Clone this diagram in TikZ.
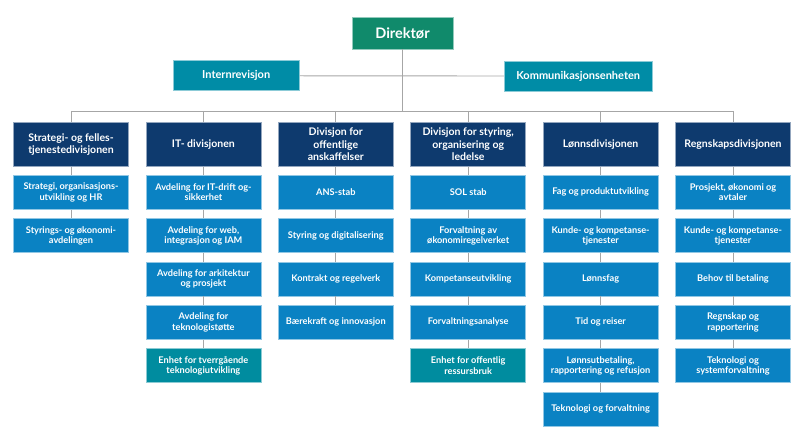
\documentclass[tikz,border=0pt]{standalone}
\usepackage{fontspec}
\setmainfont{Lato}
\definecolor{cgreen}{HTML}{108A6B}
\definecolor{cteal}{HTML}{008CA6}
\definecolor{cunit}{HTML}{008C9F}
\definecolor{cnavy}{HTML}{0E3A6E}
\definecolor{cblue}{HTML}{0A82C3}
\definecolor{cline}{HTML}{A6A6A6}
\tikzset{
  box/.style={inner sep=0pt, align=center, text=white, line width=0.6pt},
  topbox/.style={box, fill=cgreen, draw=cgreen!45!white, minimum width=101pt, minimum height=32pt, font=\fontsize{14.5}{16}\selectfont\bfseries},
  staffbox/.style={box, fill=cteal, draw=cteal!45!white, minimum height=30pt, font=\fontsize{11}{12}\selectfont\bfseries},
  divbox/.style={box, fill=cnavy, draw=cnavy!45!white, minimum width=115pt, minimum height=44.5pt, font=\fontsize{10.5}{12.5}\selectfont\bfseries},
  subbox/.style={box, fill=cblue, draw=cblue!45!white, minimum width=115pt, minimum height=34pt, font=\fontsize{9.2}{10.3}\selectfont\bfseries},
  unitbox/.style={subbox, fill=cunit, draw=cunit!45!white},
  conn/.style={draw=cline, line width=0.9pt}
}
\begin{document}
\begin{tikzpicture}[x=1pt,y=-1pt]
\useasboundingbox (0,0) rectangle (800,443);
% top
\node[topbox] (dir) at (402.5,33) {Direktør};
\node[staffbox, minimum width=126pt] (intern) at (236.2,75.8) {Internrevisjon};
\node[staffbox, minimum width=148pt] (komm) at (578.2,76) {Kommunikasjonsenheten};
\coordinate (bus) at (402.5,111);
% divisions
\node[divbox] (d1) at (71,144.3) {Strategi- og felles-\\tjenestedivisjonen};
\node[divbox] (d2) at (203.4,144.3) {IT- divisjonen};
\node[divbox] (d3) at (335.8,144.3) {Divisjon for\\offentlige\\anskaffelser};
\node[divbox] (d4) at (468.2,144.3) {Divisjon for styring,\\organisering og\\ledelse};
\node[divbox] (d5) at (600.6,144.3) {Lønnsdivisjonen};
\node[divbox] (d6) at (733,144.3) {Regnskapsdivisjonen};
% column 1
\node[subbox] (a1) at (71,192.3) {Strategi, organisasjons-\\utvikling og HR};
\node[subbox] (a2) at (71,235.65) {Styrings- og økonomi-\\avdelingen};
% column 2
\node[subbox] (b1) at (203.4,192.3) {Avdeling for IT-drift og-\\sikkerhet};
\node[subbox] (b2) at (203.4,235.65) {Avdeling for web,\\integrasjon og IAM};
\node[subbox] (b3) at (203.4,279) {Avdeling for arkitektur\\og prosjekt};
\node[subbox] (b4) at (203.4,322.35) {Avdeling for\\teknologistøtte};
\node[unitbox] (b5) at (203.4,365.7) {Enhet for tverrgående\\teknologiutvikling};
% column 3
\node[subbox] (c1) at (335.8,192.3) {ANS-stab};
\node[subbox] (c2) at (335.8,235.65) {Styring og digitalisering};
\node[subbox] (c3) at (335.8,279) {Kontrakt og regelverk};
\node[subbox] (c4) at (335.8,322.35) {Bærekraft og innovasjon};
% column 4
\node[subbox] (e1) at (468.2,192.3) {SOL stab};
\node[subbox] (e2) at (468.2,235.65) {Forvaltning av\\økonomiregelverket};
\node[subbox] (e3) at (468.2,279) {Kompetanseutvikling};
\node[subbox] (e4) at (468.2,322.35) {Forvaltningsanalyse};
\node[unitbox] (e5) at (468.2,365.7) {Enhet for offentlig\\ressursbruk};
% column 5
\node[subbox] (f1) at (600.6,192.3) {Fag og produktutvikling};
\node[subbox] (f2) at (600.6,235.65) {Kunde- og kompetanse-\\tjenester};
\node[subbox] (f3) at (600.6,279) {Lønnsfag};
\node[subbox] (f4) at (600.6,322.35) {Tid og reiser};
\node[subbox] (f5) at (600.6,365.7) {Lønnsutbetaling,\\rapportering og refusjon};
\node[subbox] (f6) at (600.6,409.05) {Teknologi og forvaltning};
% column 6
\node[subbox] (g1) at (733,192.3) {Prosjekt, økonomi og\\avtaler};
\node[subbox] (g2) at (733,235.65) {Kunde- og kompetanse-\\tjenester};
\node[subbox] (g3) at (733,279) {Behov til betaling};
\node[subbox] (g4) at (733,322.35) {Regnskap og\\rapportering};
\node[subbox] (g5) at (733,365.7) {Teknologi og\\systemforvaltning};
% connectors
\draw[conn] (dir.south) -- (bus);
\draw[conn] (intern.east) -- (komm.west);
\draw[conn] (d1.north |- bus) -- (d6.north |- bus);
\foreach \d in {d1,d2,d3,d4,d5,d6}{\draw[conn] (\d.north |- bus) -- (\d.north);}
\draw[conn] (d1.south) -- (a1.north) (a1.south) -- (a2.north);
\draw[conn] (d2.south) -- (b1.north) (b1.south) -- (b2.north) (b2.south) -- (b3.north) (b3.south) -- (b4.north) (b4.south) -- (b5.north);
\draw[conn] (d3.south) -- (c1.north) (c1.south) -- (c2.north) (c2.south) -- (c3.north) (c3.south) -- (c4.north);
\draw[conn] (d4.south) -- (e1.north) (e1.south) -- (e2.north) (e2.south) -- (e3.north) (e3.south) -- (e4.north) (e4.south) -- (e5.north);
\draw[conn] (d5.south) -- (f1.north) (f1.south) -- (f2.north) (f2.south) -- (f3.north) (f3.south) -- (f4.north) (f4.south) -- (f5.north) (f5.south) -- (f6.north);
\draw[conn] (d6.south) -- (g1.north) (g1.south) -- (g2.north) (g2.south) -- (g3.north) (g3.south) -- (g4.north) (g4.south) -- (g5.north);
\end{tikzpicture}
\end{document}
